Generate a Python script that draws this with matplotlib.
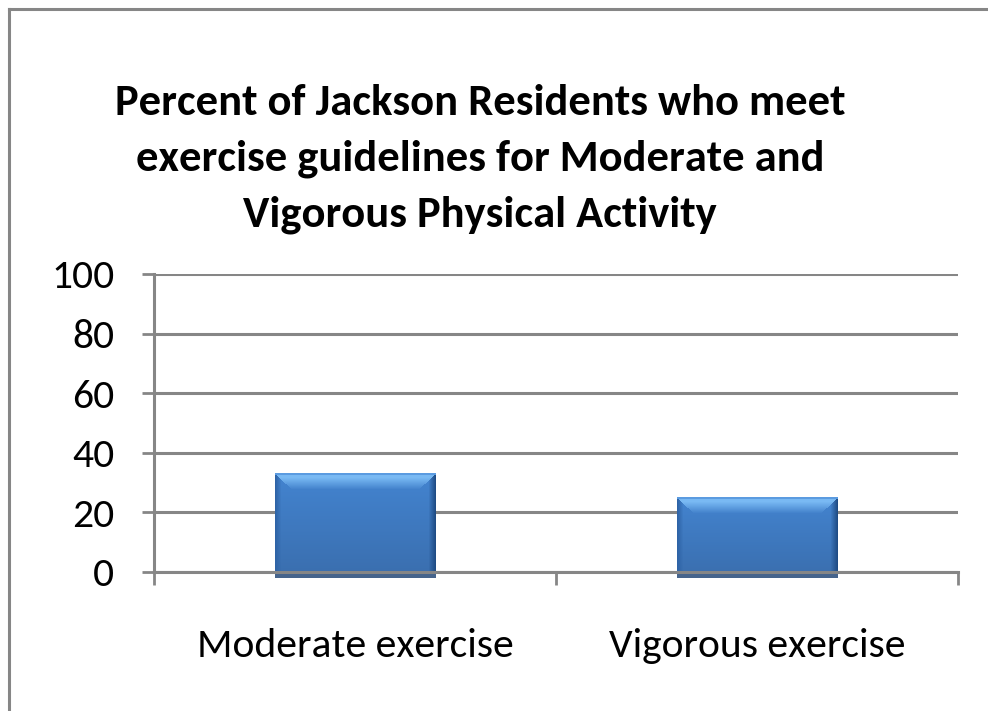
import numpy as np
import matplotlib.pyplot as plt
from matplotlib.lines import Line2D
from matplotlib.colors import to_rgb

categories = ['Moderate exercise', 'Vigorous exercise']
percent = [33, 25]
yticks = [0, 20, 40, 60, 80, 100]
title = 'Percent of Jackson Residents who meet\nexercise guidelines for Moderate and\nVigorous Physical Activity'

plt.rcParams['font.family'] = ['Carlito', 'PT Sans Narrow', 'DejaVu Sans']

W, H = 988, 711
fig = plt.figure(figsize=(W / 100, H / 100), dpi=100)
fig.patch.set_facecolor('white')

# chart frame: only the left and top edges show in the reference
fx, fy = 9 / W, 1 - 9 / H
fig.lines.append(Line2D([fx, 1.01], [fy, fy], transform=fig.transFigure, color='#868686', lw=2.2))
fig.lines.append(Line2D([fx, fx], [fy, -0.01], transform=fig.transFigure, color='#868686', lw=2.2))

ax = fig.add_axes([154 / W, 1 - 572 / H, 804 / W, (572 - 274) / H])
grid_c = '#868686'
ax.set_xlim(-0.5, 1.5)
ax.set_ylim(0, 100)

x = np.arange(len(categories))
bw = 0.4


def bevel_image(wpx, hpx):
    # excel-2007 style bevelled blue bar, built pixel by pixel
    rows = np.arange(hpx)[:, None] * np.ones((1, wpx))
    cols = np.ones((hpx, 1)) * np.arange(wpx)[None, :]
    t = rows / max(hpx - 1, 1)
    top, bot = np.array(to_rgb('#4384d0')), np.array(to_rgb('#3a6eae'))
    img = top[None, None, :] * (1 - t[..., None]) + bot[None, None, :] * t[..., None]
    dl, dr = cols, wpx - 1 - cols
    # side shading
    left_c, right_c = np.array(to_rgb('#2e63a6')), np.array(to_rgb('#1f4c85'))
    wl = np.clip(1 - dl / 6, 0, 1)[..., None]
    wr = np.clip(1 - dr / 7, 0, 1)[..., None]
    img = img * (1 - wl) + left_c * wl
    img = img * (1 - wr) + right_c * wr
    # top bevel, cut diagonally at the corners
    light = np.array(to_rgb('#80c0f8'))
    bev = 16
    wt = np.where(rows < 4, 1.0, np.clip(1 - (rows - 4) / (bev - 4), 0, 1))
    wt = wt * (np.minimum(dl, dr) * 0.9 >= rows - 1)
    wt = wt[..., None] * 0.9
    img = img * (1 - wt) + light * wt
    img[:2, :, :] = np.array(to_rgb('#5b9be0'))
    # bottom lip below the axis
    img[-6:, :, :] = np.array(to_rgb('#46648c'))
    return img


for xi, v in zip(x, percent):
    (px0, py0), (px1, py1) = ax.transData.transform([(xi - bw / 2, 0), (xi + bw / 2, v)])
    lip = 6
    ybot = ax.transData.inverted().transform((px0, py0 - lip))[1]
    img = bevel_image(int(round(px1 - px0)), int(round(py1 - py0 + lip)))
    ax.imshow(img, extent=[xi - bw / 2, xi + bw / 2, ybot, v], origin='upper', aspect='auto',
              zorder=3, interpolation='nearest', clip_on=False)

ax.set_xlim(-0.5, 1.5)
ax.set_ylim(0, 100)
ax.set_yticks(yticks)
ax.set_xticks(x)
ax.set_xticks([-0.5, 0.5, 1.5], minor=True)
ax.set_xticklabels(categories, fontsize=30)
ax.tick_params(axis='x', which='major', length=0, pad=40)
ax.tick_params(axis='x', which='minor', length=9, width=2, color=grid_c)
ax.tick_params(axis='y', length=8.5, width=2, color=grid_c, pad=20, labelsize=30)

ax.grid(axis='y', color=grid_c, linewidth=2.2, zorder=0)
ax.set_axisbelow(True)
for s in ['top', 'right']:
    ax.spines[s].set_visible(False)
for s in ['left', 'bottom']:
    ax.spines[s].set_color(grid_c)
    ax.spines[s].set_linewidth(2.2)
    ax.spines[s].set_zorder(5)

fig.text(480 / W, 1 - 159 / H, title, ha='center', va='center', fontsize=32,
         fontweight='bold', linespacing=1.55)

fig.savefig('out.png', dpi=100)
